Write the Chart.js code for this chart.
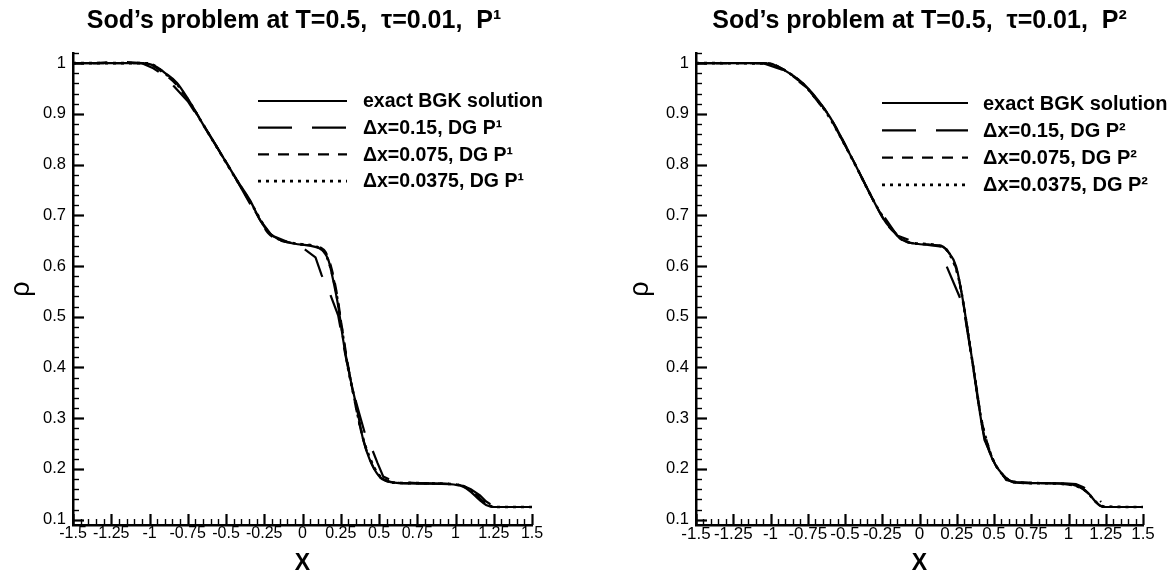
<!DOCTYPE html>
<html>
<head>
<meta charset="utf-8">
<script src="https://cdn.jsdelivr.net/npm/chart.js@4.4.1/dist/chart.umd.min.js"></script>
<style>
  html, body { margin: 0; padding: 0; background: #fff; overflow: hidden; }
  canvas { position: absolute; top: 0; }
</style>
</head>
<body>
<canvas id="left" width="588" height="581" style="left:0px"></canvas>
<canvas id="right" width="588" height="581" style="left:588px"></canvas>
<script>
// ---------------- data ----------------
const xTickValues = [-1.5, -1.25, -1, -0.75, -0.5, -0.25, 0, 0.25, 0.5, 0.75, 1, 1.25, 1.5];
const yTickValues = [0.1, 0.2, 0.3, 0.4, 0.5, 0.6, 0.7, 0.8, 0.9, 1];
const xMinorStep = 0.05;
const yMinorStep = 0.02;

const seriesLabelsP1 = ['exact BGK solution', '\u0394x=0.15, DG P\u00B9', '\u0394x=0.075, DG P\u00B9', '\u0394x=0.0375, DG P\u00B9'];
const seriesLabelsP2 = ['exact BGK solution', '\u0394x=0.15, DG P\u00B2', '\u0394x=0.075, DG P\u00B2', '\u0394x=0.0375, DG P\u00B2'];

// ----- left panel (P1) -----
const exactX_L   = [-1.5, -1.2, -1.05, -1.0, -0.95, -0.9, -0.82, -0.75, -0.63, -0.5, -0.43, -0.34, -0.28, -0.21, -0.15, -0.1, -0.05, 0.05, 0.11, 0.14, 0.17, 0.2, 0.234, 0.266, 0.31, 0.353, 0.397, 0.44, 0.5, 0.55, 0.6, 0.8, 0.96, 1.05, 1.1, 1.157, 1.2, 1.25, 1.3, 1.5];
const exactRho_L = [1.0, 1.0, 1.0, 0.998, 0.992, 0.981, 0.961, 0.93, 0.869, 0.805, 0.77, 0.728, 0.692, 0.663, 0.652, 0.647, 0.644, 0.64, 0.635, 0.628, 0.611, 0.573, 0.52, 0.454, 0.382, 0.323, 0.257, 0.218, 0.186, 0.177, 0.173, 0.171, 0.17, 0.165, 0.155, 0.139, 0.129, 0.125, 0.125, 0.125];

const dg15X_L   = [-1.5, -1.35, -1.2, -1.05, -0.975, -0.9, -0.845, -0.75, -0.6, -0.45, -0.3, -0.2, -0.1, 0.0, 0.085, 0.125, 0.18, 0.233, 0.28, 0.332, 0.37, 0.408, 0.452, 0.49, 0.528, 0.6, 0.75, 0.9, 1.0, 1.05, 1.1, 1.16, 1.2, 1.25, 1.35, 1.5];
const dg15Rho_L = [1.0, 1.0, 1.003, 1.0, 0.99, 0.975, 0.956, 0.925, 0.855, 0.78, 0.70, 0.66, 0.648, 0.636, 0.617, 0.582, 0.545, 0.503, 0.425, 0.352, 0.31, 0.27, 0.241, 0.212, 0.185, 0.175, 0.172, 0.171, 0.17, 0.167, 0.16, 0.148, 0.136, 0.126, 0.125, 0.125];

const dg075X_L   = [-1.5, -1.05, -1.0, -0.95, -0.9, -0.825, -0.75, -0.6, -0.45, -0.3, -0.225, -0.15, -0.075, 0.0, 0.075, 0.12, 0.15, 0.19, 0.225, 0.26, 0.3, 0.34, 0.375, 0.41, 0.45, 0.5, 0.55, 0.6, 0.75, 0.9, 1.0, 1.05, 1.1, 1.15, 1.2, 1.25, 1.35, 1.5];
const dg075Rho_L = [1.0, 1.0, 0.998, 0.99, 0.978, 0.958, 0.928, 0.855, 0.78, 0.703, 0.665, 0.651, 0.646, 0.642, 0.64, 0.636, 0.628, 0.595, 0.545, 0.475, 0.4, 0.335, 0.285, 0.245, 0.212, 0.185, 0.176, 0.173, 0.172, 0.171, 0.17, 0.166, 0.157, 0.145, 0.131, 0.125, 0.125, 0.125];

const dg0375X_L   = [-1.5, -1.2, -1.05, -0.9875, -0.95, -0.9, -0.825, -0.75, -0.6375, -0.4875, -0.4125, -0.3375, -0.2625, -0.225, -0.15, -0.075, 0.0, 0.075, 0.1125, 0.15, 0.1875, 0.225, 0.2625, 0.3, 0.3375, 0.375, 0.4125, 0.45, 0.4875, 0.525, 0.6, 0.75, 0.9, 1.0125, 1.05, 1.0875, 1.125, 1.1625, 1.2, 1.2375, 1.275, 1.5];
const dg0375Rho_L = [1.0, 1.0, 1.0, 0.998, 0.992, 0.98, 0.96, 0.929, 0.873, 0.798, 0.761, 0.725, 0.685, 0.668, 0.652, 0.646, 0.643, 0.64, 0.635, 0.624, 0.592, 0.54, 0.466, 0.395, 0.342, 0.286, 0.244, 0.215, 0.193, 0.181, 0.173, 0.172, 0.171, 0.169, 0.166, 0.16, 0.152, 0.143, 0.132, 0.126, 0.125, 0.125];

// ----- right panel (P2) -----
const exactX_R   = [-1.5, -1.1, -1.0, -0.962, -0.872, -0.76, -0.604, -0.447, -0.313, -0.224, -0.179, -0.134, -0.089, -0.045, 0.045, 0.134, 0.19, 0.246, 0.291, 0.336, 0.381, 0.425, 0.492, 0.582, 0.649, 0.8, 1.0, 1.05, 1.1, 1.14, 1.18, 1.21, 1.25, 1.5];
const exactRho_R = [1.0, 1.0, 0.999, 0.995, 0.98, 0.954, 0.895, 0.809, 0.731, 0.685, 0.671, 0.655, 0.648, 0.645, 0.642, 0.641, 0.629, 0.599, 0.533, 0.448, 0.362, 0.277, 0.218, 0.182, 0.173, 0.172, 0.17, 0.167, 0.16, 0.15, 0.136, 0.128, 0.125, 0.125];

const dg15X_R   = [-1.5, -1.05, -0.9, -0.75, -0.6, -0.45, -0.3, -0.15, 0.0, 0.15, 0.165, 0.183, 0.268, 0.3, 0.35, 0.4, 0.436, 0.5, 0.582, 0.65, 0.8, 1.0, 1.05, 1.1, 1.15, 1.219, 1.222, 1.225, 1.3, 1.5];
const dg15Rho_R = [1.0, 1.0, 0.985, 0.95, 0.893, 0.811, 0.724, 0.66, 0.644, 0.638, null, 0.599, 0.54, 0.51, 0.42, 0.32, 0.257, 0.215, 0.178, 0.174, 0.172, 0.171, 0.17, 0.164, 0.155, 0.135, null, 0.125, 0.125, 0.125];

const dg075X_R   = [-1.5, -1.05, -0.975, -0.9, -0.825, -0.75, -0.6, -0.45, -0.375, -0.3, -0.225, -0.15, -0.075, 0.0, 0.075, 0.15, 0.19, 0.225, 0.26, 0.3, 0.34, 0.375, 0.41, 0.45, 0.5, 0.55, 0.6, 0.675, 0.825, 0.975, 1.05, 1.1, 1.14, 1.18, 1.21, 1.25, 1.5];
const dg075Rho_R = [1.0, 1.0, 0.997, 0.985, 0.969, 0.95, 0.893, 0.811, 0.767, 0.724, 0.685, 0.661, 0.647, 0.644, 0.642, 0.639, 0.629, 0.612, 0.58, 0.516, 0.44, 0.374, 0.306, 0.256, 0.214, 0.19, 0.178, 0.173, 0.172, 0.17, 0.167, 0.16, 0.15, 0.136, 0.128, 0.125, 0.125];

const dg0375X_R   = [-1.5, -1.0125, -0.9375, -0.8625, -0.7875, -0.7125, -0.6375, -0.5625, -0.4875, -0.4125, -0.3375, -0.2625, -0.1875, -0.1125, -0.0375, 0.1125, 0.1875, 0.2625, 0.3, 0.3375, 0.375, 0.4125, 0.45, 0.4875, 0.5625, 0.6375, 0.7875, 0.9375, 1.0125, 1.0875, 1.125, 1.1625, 1.2, 1.2375, 1.5];
const dg0375Rho_R = [1.0, 0.999, 0.991, 0.978, 0.961, 0.936, 0.908, 0.872, 0.831, 0.789, 0.745, 0.705, 0.674, 0.651, 0.645, 0.641, 0.63, 0.576, 0.516, 0.445, 0.374, 0.301, 0.256, 0.222, 0.187, 0.174, 0.172, 0.171, 0.169, 0.162, 0.154, 0.142, 0.131, 0.126, 0.125];

// ---------------- rendering ----------------
const FONT = "'Liberation Sans', Arial, Helvetica, sans-serif";
Chart.defaults.font.family = FONT;
Chart.defaults.color = '#000';

function pts(xs, ys) { return xs.map((x, i) => ({ x: x, y: ys[i] })); }
function fmt(v) { return String(Math.round(v * 10000) / 10000); }

const STYLES = [
  { dash: [], width: 2.2, smooth: true },
  { dash: [34, 20], width: 2.2, smooth: false },
  { dash: [11, 9], width: 2.2, smooth: true },
  { dash: [3, 5], width: 2.6, smooth: true }
];

function makeDatasets(labels, series) {
  return series.map((s, i) => ({
    label: labels[i],
    data: pts(s[0], s[1]),
    borderColor: '#000',
    backgroundColor: '#000',
    borderWidth: STYLES[i].width,
    borderDash: STYLES[i].dash,
    borderCapStyle: 'butt',
    pointRadius: 0,
    fill: false,
    tension: 0,
    cubicInterpolationMode: STYLES[i].smooth ? 'monotone' : 'default',
    spanGaps: false,
    xAxisID: 'x',
    yAxisID: 'y'
  }));
}

const inwardTicks = {
  id: 'inwardTicks',
  afterDraw(chart) {
    const ctx = chart.ctx;
    const xs = chart.scales.x, ys = chart.scales.y;
    const left = chart.chartArea.left, bottom = chart.chartArea.bottom;
    ctx.save();
    ctx.strokeStyle = '#000';
    const line = (x1, y1, x2, y2, w) => { ctx.lineWidth = w; ctx.beginPath(); ctx.moveTo(x1, y1); ctx.lineTo(x2, y2); ctx.stroke(); };
    const nx = Math.round((xs.max - xs.min) / xMinorStep);
    for (let k = 0; k <= nx; k++) {
      const v = xs.min + k * xMinorStep;
      const isMajor = xTickValues.some(t => Math.abs(t - v) < 1e-6);
      const px = Math.round(xs.getPixelForValue(v)) + 0.5;
      line(px, bottom, px, bottom - (isMajor ? 11 : 6), isMajor ? 2.2 : 1.4);
    }
    const startY = Math.ceil(ys.min / yMinorStep - 1e-6) * yMinorStep;
    for (let v = startY; v <= ys.max + 1e-6; v += yMinorStep) {
      const isMajor = yTickValues.some(t => Math.abs(t - v) < 1e-6);
      const py = Math.round(ys.getPixelForValue(v)) + 0.5;
      line(left, py, left + (isMajor ? 11 : 6), py, isMajor ? 2.2 : 1.4);
    }
    ctx.restore();
  }
};

const lineLegend = {
  id: 'lineLegend',
  afterDraw(chart, args, o) {
    const ctx = chart.ctx;
    chart.data.datasets.forEach((ds, i) => {
      const y = o.y0 + i * o.dy;
      ctx.save();
      ctx.strokeStyle = ds.borderColor;
      ctx.lineWidth = ds.borderWidth;
      ctx.lineCap = 'butt';
      ctx.setLineDash(ds.borderDash || []);
      ctx.beginPath();
      ctx.moveTo(o.x0, y);
      ctx.lineTo(o.x1, y);
      ctx.stroke();
      ctx.restore();
      ctx.save();
      ctx.fillStyle = '#000';
      ctx.font = 'bold ' + o.size + 'px ' + FONT;
      ctx.textBaseline = 'middle';
      ctx.textAlign = 'left';
      ctx.fillText(ds.label, o.tx, y + 1);
      ctx.restore();
    });
  }
};

function makeChart(id, cfg) {
  return new Chart(document.getElementById(id), {
    type: 'line',
    data: { datasets: cfg.datasets },
    options: {
      responsive: false,
      animation: false,
      devicePixelRatio: 1,
      layout: { padding: 0 },
      events: [],
      plugins: {
        legend: { display: false },
        tooltip: { enabled: false },
        title: {
          display: true, text: cfg.title, fullSize: cfg.titleFull, color: '#000',
          font: { family: FONT, size: 25, weight: 'bold', lineHeight: 1.2 },
          padding: { top: 6, bottom: 17 }
        },
        lineLegend: cfg.legend
      },
      scales: {
        x: {
          type: 'linear', position: 'bottom', min: -1.5, max: 1.5,
          afterBuildTicks: s => { s.ticks = xTickValues.map(v => ({ value: v })); },
          afterFit: s => { s.height = 56; s.paddingLeft = 0; s.paddingRight = 0; },
          ticks: { autoSkip: false, maxRotation: 0, minRotation: 0, padding: 1, color: '#000',
                   font: { family: FONT, size: cfg.xTickSize, lineHeight: 1 }, callback: v => fmt(v) },
          grid: { display: false, drawTicks: false },
          border: { display: true, color: '#000', width: 2.5 },
          title: { display: true, text: 'X', color: '#000',
                   font: { family: FONT, size: 23, weight: 'bold', lineHeight: 1 }, padding: { top: 0, bottom: 6 } }
        },
        y: {
          type: 'linear', position: 'left', min: 0.0895, max: 1.02,
          afterBuildTicks: s => { s.ticks = yTickValues.map(v => ({ value: v })); },
          afterFit: s => { s.width = cfg.yAxisWidth; s.paddingTop = 0; s.paddingBottom = 0; },
          ticks: { autoSkip: false, padding: 7, color: '#000',
                   font: { family: FONT, size: 16.5, lineHeight: 1 }, callback: v => fmt(v) },
          grid: { display: false, drawTicks: false },
          border: { display: true, color: '#000', width: 2.5 },
          title: { display: true, text: '\u03C1', color: '#000',
                   font: { family: FONT, size: 27, lineHeight: 1 }, padding: { top: cfg.rhoPad, bottom: 0 } }
        },
        yR: {
          type: 'linear', axis: 'y', position: 'right', display: true,
          ticks: { display: false }, grid: { display: false, drawTicks: false }, border: { display: false },
          afterFit: s => { s.width = cfg.rightGap; }
        }
      }
    },
    plugins: [inwardTicks, lineLegend]
  });
}

makeChart('left', {
  title: 'Sod\u2019s problem at T=0.5,  \u03C4=0.01,  P\u00B9',
  titleFull: true,
  xTickSize: 16,
  yAxisWidth: 73,
  rhoPad: 8,
  rightGap: 56,
  legend: { x0: 258, x1: 347, tx: 363, y0: 101, dy: 26.7, size: 19.5 },
  datasets: makeDatasets(seriesLabelsP1, [
    [exactX_L, exactRho_L], [dg15X_L, dg15Rho_L], [dg075X_L, dg075Rho_L], [dg0375X_L, dg0375Rho_L]
  ])
});

makeChart('right', {
  title: 'Sod\u2019s problem at T=0.5,  \u03C4=0.01,  P\u00B2',
  titleFull: false,
  xTickSize: 17,
  yAxisWidth: 108,
  rhoPad: 39,
  rightGap: 33,
  legend: { x0: 294, x1: 380, tx: 395, y0: 103, dy: 27.3, size: 20 },
  datasets: makeDatasets(seriesLabelsP2, [
    [exactX_R, exactRho_R], [dg15X_R, dg15Rho_R], [dg075X_R, dg075Rho_R], [dg0375X_R, dg0375Rho_R]
  ])
});
</script>
</body>
</html>
